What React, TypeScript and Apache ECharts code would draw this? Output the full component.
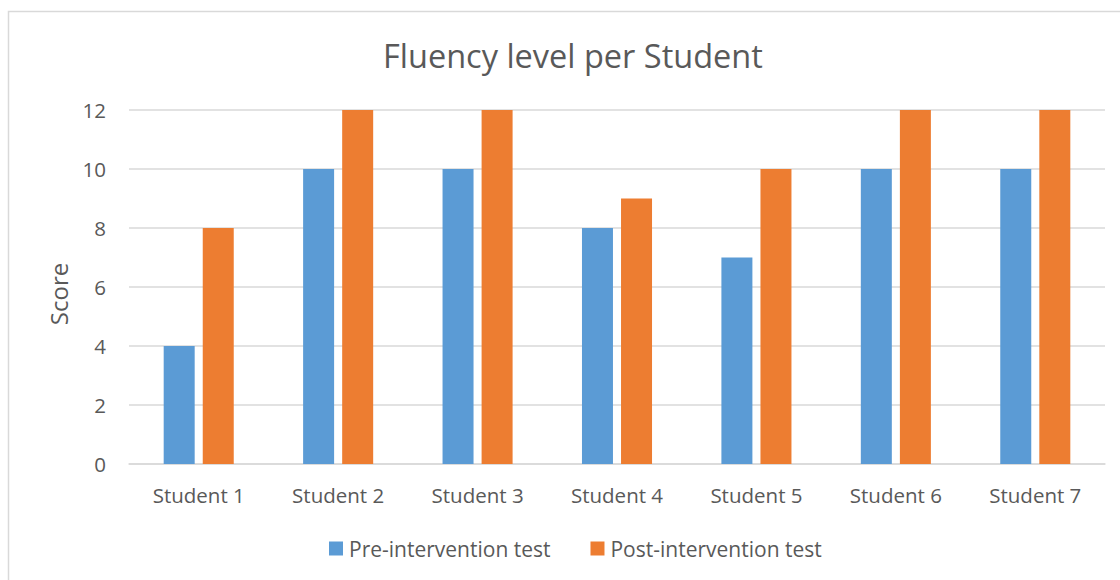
import React, { useEffect, useRef } from "react";
import * as echarts from "echarts";

const categories = ["Student 1", "Student 2", "Student 3", "Student 4", "Student 5", "Student 6", "Student 7"];
const preValues = [4, 10, 10, 8, 7, 10, 10];
const postValues = [8, 12, 12, 9, 10, 12, 12];
const seriesNames = ["Pre-intervention test", "Post-intervention test"];
const titleText = "Fluency level per Student";
const yAxisName = "Score";

const FONT = "'Open Sans', 'Noto Sans', sans-serif";
const TEXT = "#595959";

export default function App() {
  const ref = useRef<HTMLDivElement>(null);
  useEffect(() => {
    document.body.style.margin = "0";
    const chart = echarts.init(ref.current!, null, { renderer: "svg" });
    chart.setOption({
      animation: false,
      backgroundColor: "#ffffff",
      graphic: [
        {
          type: "rect",
          shape: { x: 8.5, y: 11.5, width: 1300, height: 800 },
          style: { fill: "none", stroke: "#d9d9d9", lineWidth: 1.5 },
          silent: true,
        },
      ],
      title: {
        text: titleText,
        left: 378,
        top: 34,
        padding: 5,
        textStyle: { fontFamily: FONT, fontSize: 32.5, fontWeight: "normal", color: TEXT, lineHeight: 32 },
      },
      legend: {
        data: seriesNames,
        left: 329,
        top: 538,
        padding: 0,
        itemWidth: 14,
        itemHeight: 14,
        itemGap: 40,
        icon: "rect",
        textStyle: { fontFamily: FONT, fontSize: 21, color: TEXT, padding: [0, 0, 0, 1] },
      },
      grid: { left: 129, right: 15, top: 110, bottom: 116, containLabel: false },
      xAxis: {
        type: "category",
        data: categories,
        axisLine: { lineStyle: { color: "#d9d9d9", width: 1.5 } },
        axisTick: { show: false },
        axisLabel: { fontFamily: FONT, fontSize: 20.5, color: TEXT, margin: 20 },
      },
      yAxis: {
        type: "value",
        min: 0,
        max: 12,
        interval: 2,
        name: yAxisName,
        nameLocation: "middle",
        nameGap: 59,
        nameRotate: 90,
        nameTextStyle: { fontFamily: FONT, fontSize: 24, color: TEXT, padding: [0, 14, 0, 0] },
        axisLine: { show: false },
        axisTick: { show: false },
        splitLine: { lineStyle: { color: "#d9d9d9", width: 1.5 } },
        axisLabel: { fontFamily: FONT, fontSize: 20.5, color: TEXT, margin: 23 },
      },
      series: [
        {
          name: seriesNames[0],
          type: "bar",
          data: preValues,
          barWidth: 31,
          barGap: "26%",
          itemStyle: { color: "#5B9BD5" },
        },
        {
          name: seriesNames[1],
          type: "bar",
          data: postValues,
          barWidth: 31,
          barGap: "26%",
          itemStyle: { color: "#ED7D31" },
        },
      ],
    });
    return () => chart.dispose();
  }, []);
  return <div ref={ref} style={{ width: 1120, height: 580 }} />;
}
